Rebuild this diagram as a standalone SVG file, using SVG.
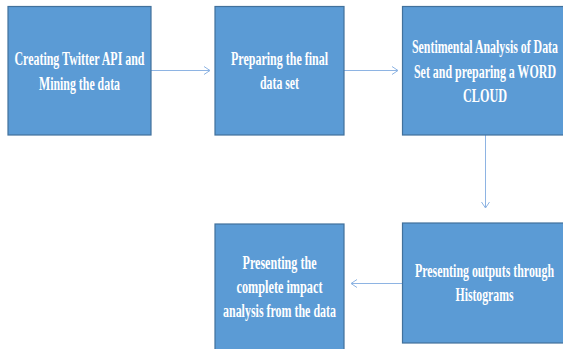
<svg xmlns="http://www.w3.org/2000/svg" width="563" height="349" viewBox="0 0 563 349">
<style>
.box{fill:#5B9BD5;stroke:#41719C;stroke-width:1.2}
.t{font-family:"Liberation Serif","Times New Roman",serif;font-weight:bold;font-size:19px;fill:#fff;text-anchor:middle}
.c{stroke:#8EB4E3;stroke-width:1;fill:none}
</style>
<defs>
<marker id="ah" markerWidth="8" markerHeight="10" refX="7" refY="5" orient="auto" markerUnits="userSpaceOnUse">
<path d="M1,1 L7,5 L1,9" fill="none" stroke="#8EB4E3" stroke-width="1"/>
</marker>
</defs>
<rect width="563" height="349" fill="#fff"/>
<g id="connectors">
<line class="c" x1="151" y1="70.5" x2="210" y2="70.5" marker-end="url(#ah)"/>
<line class="c" x1="344" y1="70.5" x2="398" y2="70.5" marker-end="url(#ah)"/>
<line class="c" x1="485.5" y1="135" x2="485.5" y2="208" marker-end="url(#ah)"/>
<line class="c" x1="402" y1="283.5" x2="351" y2="283.5" marker-end="url(#ah)"/>
</g>
<g id="n1">
<rect class="box" x="8" y="6.5" width="143" height="128.5"/>
<g transform="translate(79.5,0) scale(0.6,1)">
<text class="t" x="0" y="65" textLength="216.7" lengthAdjust="spacingAndGlyphs">Creating Twitter API and</text>
<text class="t" x="0" y="90" textLength="135" lengthAdjust="spacingAndGlyphs">Mining the data</text>
</g>
</g>
<g id="n2">
<rect class="box" x="215" y="6.5" width="129" height="128.5"/>
<g transform="translate(279.5,0) scale(0.6,1)">
<text class="t" x="0" y="65.5" textLength="161.7" lengthAdjust="spacingAndGlyphs">Preparing the final</text>
<text class="t" x="0" y="89.5" textLength="65" lengthAdjust="spacingAndGlyphs">data set</text>
</g>
</g>
<g id="n3">
<rect class="box" x="402.5" y="6.5" width="165" height="128.5"/>
<g transform="translate(485,0) scale(0.6,1)">
<text class="t" x="0" y="53" textLength="243.3" lengthAdjust="spacingAndGlyphs">Sentimental Analysis of Data</text>
<text class="t" x="0" y="78" textLength="236.7" lengthAdjust="spacingAndGlyphs">Set and preparing a WORD</text>
<text class="t" x="0" y="102" textLength="73.3" lengthAdjust="spacingAndGlyphs">CLOUD</text>
</g>
</g>
<g id="n4">
<rect class="box" x="402.5" y="223" width="165" height="120"/>
<g transform="translate(484.5,0) scale(0.6,1)">
<text class="t" x="0" y="277" textLength="231.7" lengthAdjust="spacingAndGlyphs">Presenting outputs through</text>
<text class="t" x="0" y="301" textLength="96.7" lengthAdjust="spacingAndGlyphs">Histograms</text>
</g>
</g>
<g id="n5">
<rect class="box" x="215" y="224" width="129" height="130"/>
<g transform="translate(279.5,0) scale(0.6,1)">
<text class="t" x="0" y="269" textLength="123.3" lengthAdjust="spacingAndGlyphs">Presenting the</text>
<text class="t" x="0" y="293" textLength="143.3" lengthAdjust="spacingAndGlyphs">complete impact</text>
<text class="t" x="0" y="317" textLength="188.3" lengthAdjust="spacingAndGlyphs">analysis from the data</text>
</g>
</g>
</svg>
